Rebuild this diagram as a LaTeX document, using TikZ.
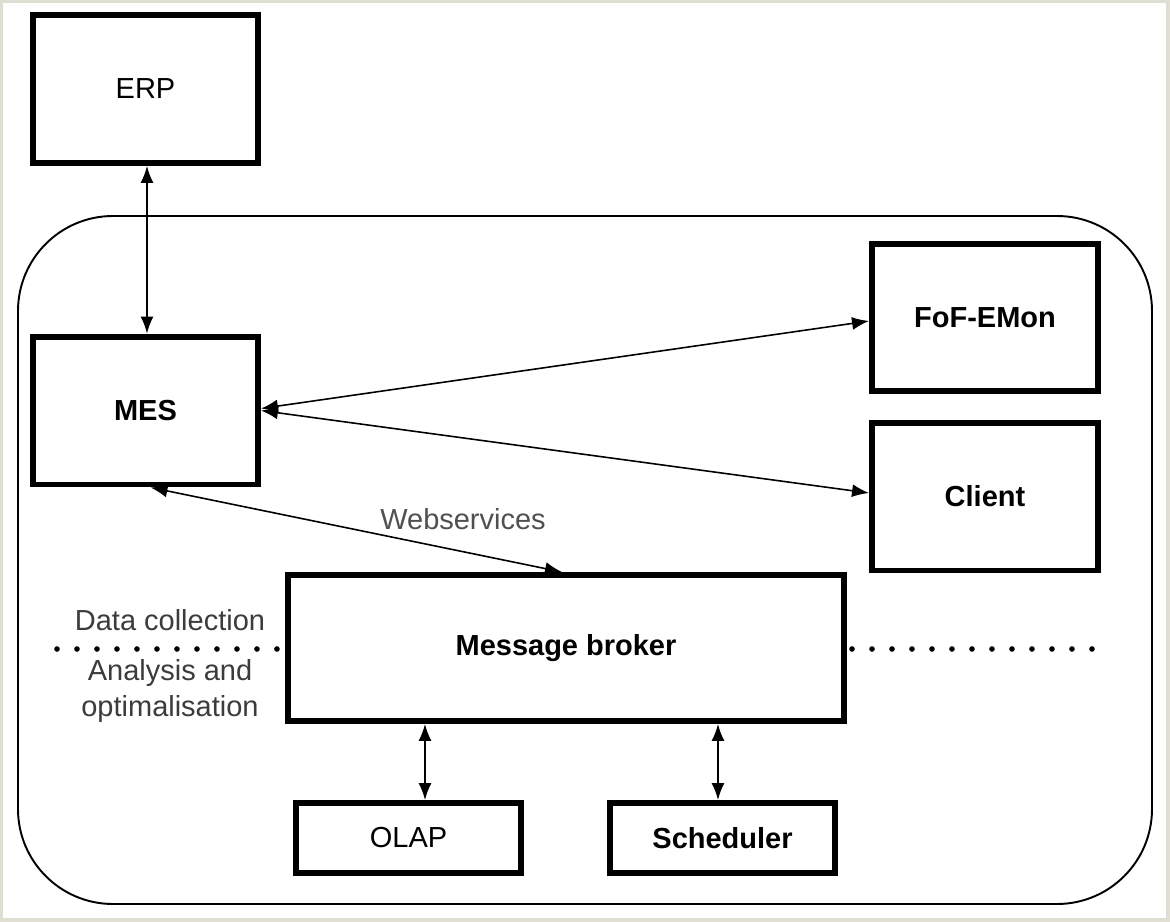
\documentclass[tikz,border=0pt]{standalone}
\usepackage{fontspec}
\setmainfont{Liberation Sans}
\usetikzlibrary{arrows.meta}
\definecolor{framebg}{RGB}{222,222,210}
\definecolor{labelgray}{RGB}{60,60,60}
\begin{document}
\begin{tikzpicture}[x=0.02cm, y=-0.02cm,
  sysbox/.style={draw, line width=3.4pt, inner sep=0pt, minimum width=4.5cm, minimum height=2.96cm, font=\fontsize{16.5}{20}\selectfont},
  smallbox/.style={sysbox, minimum height=1.4cm},
  link/.style={line width=0.9pt, {Latex[length=0.34cm,width=0.26cm]}-{Latex[length=0.34cm,width=0.26cm]}},
  layer/.style={line width=3.2pt, line cap=round, dash pattern=on 0pt off 0.4cm},
  note/.style={text=labelgray, align=center, font=\fontsize{16.5}{20}\selectfont}]
\useasboundingbox (0,0) rectangle (1170,922);
\fill[framebg] (0,0) rectangle (1170,922);
\fill[white] (3,3) rectangle (1166,918);
\draw[line width=1.1pt, rounded corners=1.9cm] (18,216) rectangle (1152,904);
\node[sysbox] (erp) at (145.5,89){ERP};
\node[sysbox, font=\fontsize{16.5}{20}\selectfont\bfseries] (mes) at (145.5,410.5){MES};
\node[sysbox, minimum width=4.52cm, font=\fontsize{16.5}{20}\selectfont\bfseries] (fof) at (985,317.5){FoF-EMon};
\node[sysbox, minimum width=4.52cm, font=\fontsize{16.5}{20}\selectfont\bfseries] (client) at (985,496.5){Client};
\node[sysbox, minimum width=11.12cm, minimum height=2.92cm, font=\fontsize{16.5}{20}\selectfont\bfseries] (broker) at (566,648){Message broker};
\node[smallbox] (olap) at (408.5,838){OLAP};
\node[smallbox, font=\fontsize{16.5}{20}\selectfont\bfseries] (sched) at (722.5,838){Scheduler};
\draw[link] ([xshift=0.03cm]erp.south) -- ([xshift=0.03cm]mes.north);
\draw[link] ([yshift=0.04cm]mes.east) -- ([yshift=-0.07cm]fof.west);
\draw[link] (mes.east) -- ([yshift=0.07cm]client.west);
\draw[link] ([xshift=0.1cm]mes.south) -- ([xshift=-0.08cm]broker.north);
\node[note, text=labelgray!90] (ws) at (463,519){Webservices};
\draw[link] ([xshift=0.33cm]broker.south -| olap.north) -- ([xshift=0.33cm]olap.north);
\draw[link] ([xshift=-0.09cm]broker.south -| sched.north) -- ([xshift=-0.09cm]sched.north);
\coordinate (dl1) at (57,649);
\coordinate (dl2) at (283,649);
\coordinate (dr1) at (852,649);
\coordinate (dr2) at (1098,649);
\draw[layer] (dl1) -- (dl2);
\draw[layer] (dr1) -- (dr2);
\node[note] (collect) at (170,620){Data collection};
\node[note, text depth=0pt] (analyse) at (170,688){Analysis and\\optimalisation};
\end{tikzpicture}
\end{document}
